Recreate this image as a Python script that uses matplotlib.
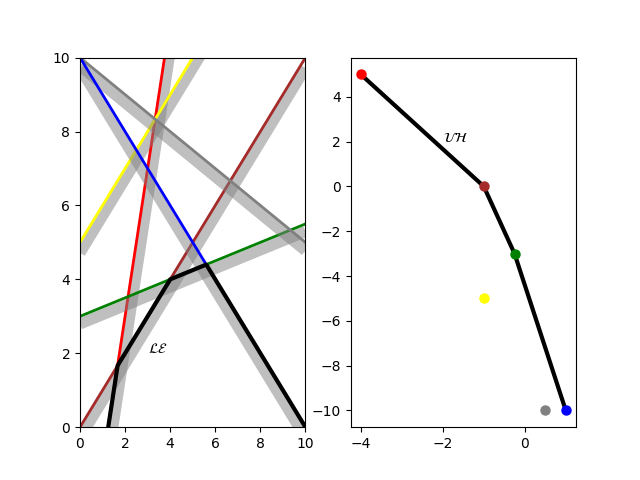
import matplotlib
matplotlib.use('Agg')
import matplotlib.pyplot as plt
import numpy as np

# Dual points (a, b); each maps to the line y = -a*x - b
colors = ['red', 'brown', 'green', 'yellow', 'gray', 'blue']
pts_a = [-4, -1, -0.25, -1, 0.5, 1]
pts_b = [5, 0, -3, -5, -10, -10]

fig, (ax1, ax2) = plt.subplots(1, 2, figsize=(6.4, 4.8), dpi=100)

# --- left: lines and their lower envelope ---
x = np.linspace(0, 10, 2001)
ys = []
for a, b, c in zip(pts_a, pts_b, colors):
    s, k = -a, -b
    y = s * x + k
    ys.append(y)
    # shaded band on the lower side of each line
    shift = 0.2 * np.sqrt(1 + s ** 2)
    ax1.plot(x, y - shift, color='gray', lw=8, alpha=0.5, solid_capstyle='butt')
    ax1.plot(x, y, color=c, lw=2)

env = np.min(np.array(ys), axis=0)
ax1.plot(x, env, color='black', lw=3)
ax1.text(3, 2, r'$\mathcal{LE}$')
ax1.set_xlim(0, 10)
ax1.set_ylim(0, 10)

# --- right: points and their upper hull ---
order = sorted(zip(pts_a, pts_b), key=lambda p: (p[0], -p[1]))
hull = []
for p in order:
    if hull and hull[-1][0] == p[0]:
        continue
    while len(hull) >= 2:
        (x1, y1), (x2, y2) = hull[-2], hull[-1]
        cross = (x2 - x1) * (p[1] - y1) - (y2 - y1) * (p[0] - x1)
        if cross >= 0:
            hull.pop()
        else:
            break
    hull.append(p)
hx, hy = zip(*hull)
ax2.plot(hx, hy, color='black', lw=3, zorder=1)
for a, b, c in zip(pts_a, pts_b, colors):
    ax2.plot(a, b, 'o', color=c, markersize=6.5, zorder=2)
ax2.text(-2, 2, r'$\mathcal{UH}$')

plt.savefig('out.png', dpi=100)
